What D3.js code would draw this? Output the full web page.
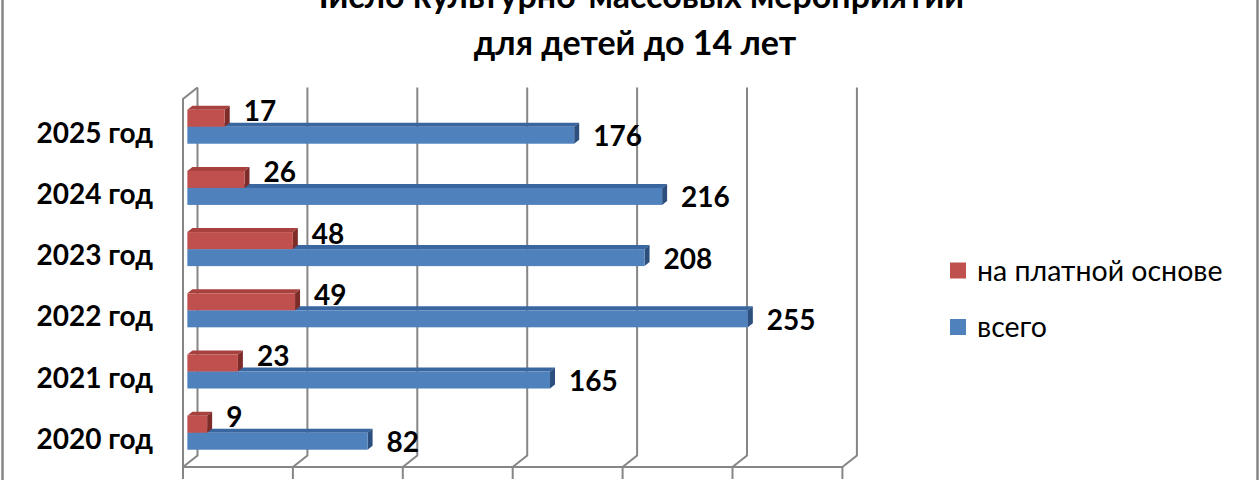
<html>
<head>
<meta charset="utf-8">
<style>
  body { margin: 0; background: white }
  text { font-family: Lato, "Open Sans", sans-serif; }
</style>
</head>
<body>
<script src="https://d3js.org/d3.v7.min.js"></script>
<script>

// data
var years = ["2025 год", "2024 год", "2023 год", "2022 год", "2021 год", "2020 год"];
var paid = [17, 26, 48, 49, 23, 9];
var total = [176, 216, 208, 255, 165, 82];
var seriesNames = ["на платной основе", "всего"];
var tickValues = [0, 50, 100, 150, 200, 250, 300];
var titleLines = ["Число культурно-массовых мероприятий", "для детей до 14 лет"];

var width = 1260, height = 480;

// 3d box of the plot: front plane + depth offset
var frontX = 183, frontTop = 99, frontBottom = 467;
var depthDX = 14.5, depthDY = -11.5;
var barDepth = 0.3;           // where the bars sit inside the box
var barDX = 5, barDY = -4;    // thickness of the bars
var barX0 = frontX + barDepth * depthDX;

var colors = {
  red:  { front: "#C0504D", top: "#A7413E", side: "#7E2C2A" },
  blue: { front: "#4F81BD", top: "#3A66A0", side: "#2C4F7E" }
};

var x = d3.scaleLinear().domain([0, 300]).range([0, 659.4]);

var y = d3.scaleBand().domain(years)
  .range([96.1, 463.3])
  .paddingInner(0.444).paddingOuter(0.222);

var ySeries = d3.scaleBand().domain(seriesNames).range([0, y.bandwidth()]);

var svg = d3.select("body").append("svg")
  .attr("width", width)
  .attr("height", height);

// outer frame
svg.append("rect")
  .attr("x", 2.5).attr("y", -10)
  .attr("width", 1255).attr("height", 500)
  .attr("fill", "none").attr("stroke", "#868686").attr("stroke-width", 2.5);

// title (first line is cut by the top edge, as in the original)
svg.append("g").selectAll("text").data(titleLines).enter()
  .append("text")
  .attr("x", 635)
  .attr("y", function(d, i) { return 8 + i * 47; })
  .attr("text-anchor", "middle")
  .attr("font-size", 34)
  .attr("font-weight", "bold")
  .text(function(d) { return d; });

// walls + gridlines
var grid = svg.append("g")
  .attr("fill", "none").attr("stroke", "#868686").attr("stroke-width", 2);

grid.selectAll("path.grid").data(tickValues).enter()
  .append("path")
  .attr("class", "grid")
  .attr("d", function(t) {
    var bx = frontX + depthDX + x(t);
    return "M" + bx + "," + (frontTop + depthDY) +
      "L" + bx + "," + (frontBottom + depthDY) +
      "L" + (frontX + x(t)) + "," + frontBottom;
  });

// left wall front edge
grid.append("path")
  .attr("d", "M" + (frontX + depthDX) + "," + (frontTop + depthDY) +
    "L" + frontX + "," + frontTop + "L" + frontX + "," + frontBottom);

// floor front edge + ticks
grid.append("path")
  .attr("d", "M" + frontX + "," + frontBottom + "H" + (frontX + x(300)));
grid.selectAll("path.tick").data(tickValues).enter()
  .append("path")
  .attr("class", "tick")
  .attr("d", function(t) {
    return "M" + (frontX + x(t)) + "," + frontBottom + "V" + (frontBottom + 12);
  });

// bars
function drawBars(values, serie, col) {
  var g = svg.append("g");
  var bars = g.selectAll("g").data(values).enter().append("g");
  function geo(d, i) {
    var y0 = y(years[i]) + ySeries(serie);
    return { xs: barX0, xe: barX0 + x(d), y0: y0, y1: y0 + ySeries.bandwidth() };
  }
  bars.append("path")
    .attr("fill", col.top)
    .attr("d", function(d, i) {
      var b = geo(d, i);
      return "M" + b.xs + "," + b.y0 + "l" + barDX + "," + barDY +
        "H" + (b.xe + barDX) + "L" + b.xe + "," + b.y0 + "Z";
    });
  bars.append("path")
    .attr("fill", col.side)
    .attr("d", function(d, i) {
      var b = geo(d, i);
      return "M" + b.xe + "," + b.y0 + "l" + barDX + "," + barDY +
        "V" + (b.y1 + barDY) + "L" + b.xe + "," + b.y1 + "Z";
    });
  bars.append("rect")
    .attr("fill", col.front)
    .attr("x", function(d, i) { return geo(d, i).xs; })
    .attr("y", function(d, i) { return geo(d, i).y0; })
    .attr("width", function(d) { return x(d); })
    .attr("height", ySeries.bandwidth());
  return bars;
}

var blueBars = drawBars(total, "всего", colors.blue);
var redBars = drawBars(paid, "на платной основе", colors.red);

// value labels
function drawLabels(values, serie, dy) {
  svg.append("g").selectAll("text").data(values).enter()
    .append("text")
    .attr("x", function(d) { return barX0 + x(d) + 19; })
    .attr("y", function(d, i) {
      return y(years[i]) + ySeries(serie) + ySeries.bandwidth() / 2 + dy;
    })
    .attr("dy", "0.36em")
    .attr("font-size", 28)
    .attr("font-weight", "bold")
    .text(function(d) { return d; });
}
drawLabels(total, "всего", 1);
drawLabels(paid, "на платной основе", -7);

// category labels
svg.append("g").selectAll("text").data(years).enter()
  .append("text")
  .attr("x", 153)
  .attr("y", function(d) { return y(d) + y.bandwidth() / 2 + 6; })
  .attr("dy", "0.36em")
  .attr("text-anchor", "end")
  .attr("font-size", 28)
  .attr("font-weight", "bold")
  .text(function(d) { return d; });

// legend
var legend = svg.append("g").selectAll("g").data(seriesNames).enter()
  .append("g")
  .attr("transform", function(d, i) { return "translate(950," + (270.5 + i * 56.5) + ")"; });
legend.append("rect")
  .attr("x", 0).attr("y", -8).attr("width", 16).attr("height", 16)
  .attr("fill", function(d, i) { return i == 0 ? colors.red.front : colors.blue.front; });
legend.append("text")
  .attr("x", 27).attr("dy", "0.36em")
  .attr("font-size", 28.5)
  .text(function(d) { return d; });

</script>
</body>
</html>
